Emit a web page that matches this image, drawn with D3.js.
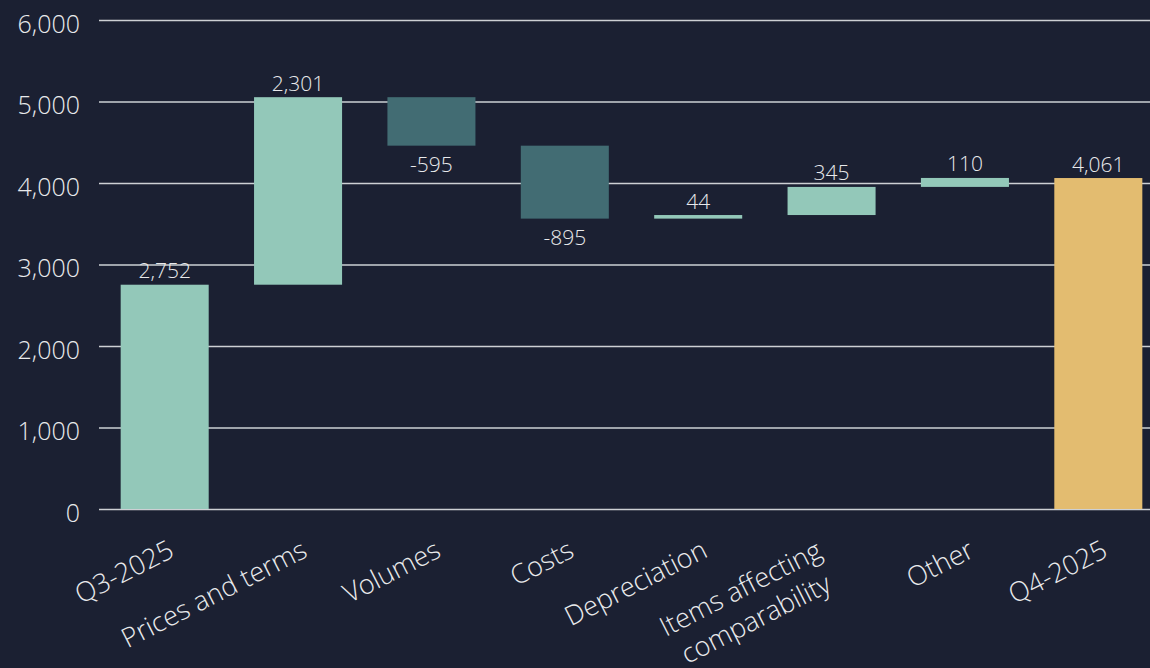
<!DOCTYPE html>
<html>
<head>
<meta charset="utf-8">
<script src="https://cdn.jsdelivr.net/npm/d3@7"></script>
<style>
  html, body { margin: 0; padding: 0; background: #1b2032; }
  svg { display: block; }
</style>
</head>
<body>
<div id="main"></div>
<script>
// waterfall data
const categories = ['Q3-2025', 'Prices and terms', 'Volumes', 'Costs', 'Depreciation', 'Items affecting\ncomparability', 'Other', 'Q4-2025']
const values = [2752, 2301, -595, -895, 44, 345, 110, 4061]
const kinds = ['start', 'delta', 'delta', 'delta', 'delta', 'delta', 'delta', 'end']
const yTicks = [0, 1000, 2000, 3000, 4000, 5000, 6000]

const ctx = {
    w: 1150,
    h: 668,
    font: "'Segoe UI Light', 'Segoe UI', 'Open Sans', sans-serif",
    up: '#93c8b9',
    down: '#426c73',
    total: '#e3bc70',
    grid: '#cdd0d4',
    text: '#e9eaec'
}

function buildSteps() {
    let run = 0
    return categories.map((c, i) => {
        let v = values[i]
        let start, end
        if (kinds[i] !== 'delta') { start = 0; end = v; run = v }
        else { start = run; end = run + v; run = end }
        return { name: c, value: v, kind: kinds[i], start: start, end: end }
    })
}

function barColor(d) {
    if (d.kind === 'end') return ctx.total
    return d.value >= 0 ? ctx.up : ctx.down
}

function createViz() {
    let steps = buildSteps()
    let svg = d3.select('#main').append('svg')
        .attr('width', ctx.w)
        .attr('height', ctx.h)
        .style('font-family', ctx.font)

    let x = d3.scaleBand()
        .domain(categories)
        .range([106, 1157])
        .paddingInner(0.34)
        .paddingOuter(0.11)

    let y = d3.scaleLinear()
        .domain([0, 6000])
        .range([509, 20])

    // gridlines + y labels
    let yAxis = svg.append('g')
        .attr('transform', 'translate(99,0)')
        .call(d3.axisLeft(y)
            .tickValues(yTicks)
            .tickFormat(d3.format(','))
            .tickSizeInner(-(ctx.w - 99))
            .tickSizeOuter(0)
            .tickPadding(19))
    yAxis.select('.domain').remove()
    yAxis.selectAll('.tick line')
        .attr('stroke', ctx.grid)
        .attr('stroke-width', 1.6)
    yAxis.selectAll('.tick text')
        .attr('fill', ctx.text)
        .attr('font-size', 25)
        .attr('font-weight', 300)
        .attr('font-family', ctx.font)
        .attr('dy', 12)

    // bars
    svg.append('g').selectAll('rect')
        .data(steps)
        .join('rect')
        .attr('x', d => x(d.name))
        .attr('width', x.bandwidth())
        .attr('y', d => y(Math.max(d.start, d.end)))
        .attr('height', d => Math.abs(y(d.start) - y(d.end)))
        .attr('fill', barColor)

    // value labels
    svg.append('g').selectAll('text')
        .data(steps)
        .join('text')
        .attr('x', d => x(d.name) + x.bandwidth() / 2)
        .attr('y', d => d.value >= 0 ? y(Math.max(d.start, d.end)) - 6.5 : y(Math.min(d.start, d.end)) + 26)
        .attr('text-anchor', 'middle')
        .attr('fill', ctx.text)
        .attr('font-size', 21)
        .attr('font-weight', 300)
        .text(d => d3.format(',')(d.value).replace('−', '-'))

    // rotated category labels
    let lh = 34
    let labels = svg.append('g').selectAll('g')
        .data(steps)
        .join('g')
        .attr('transform', d => `translate(${x(d.name) + x.bandwidth() / 2 + 11},556) rotate(-27)`)
    labels.each(function (d) {
        let lines = d.name.split('\n')
        let t = d3.select(this).append('text')
            .attr('fill', ctx.text)
            .attr('font-size', 27)
            .attr('font-weight', 300)
        let spans = lines.map((l, i) => t.append('tspan').attr('x', 0).attr('y', i * lh).text(l))
        if (lines.length > 1) {
            // wrapped label: lines centred on each other, block pulled back a bit
            let wMax = d3.max(spans.map(s => s.node().getComputedTextLength()))
            t.attr('text-anchor', 'middle')
            spans.forEach(s => s.attr('x', -17 - wMax / 2).attr('dy', -8))
        } else {
            t.attr('text-anchor', 'end')
        }
    })
}

createViz()
</script>
</body>
</html>
